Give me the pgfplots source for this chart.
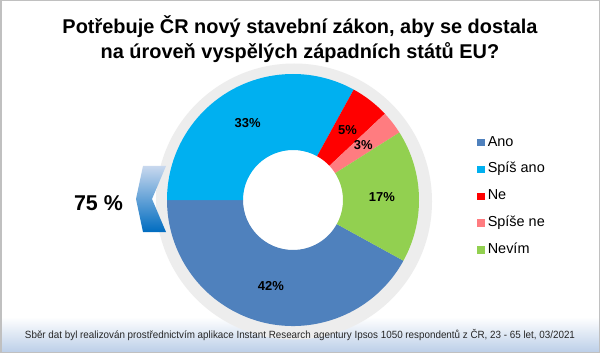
\documentclass[border=0pt]{standalone}
\usepackage{graphicx}
\usepackage{pgfplots}
\pgfplotsset{compat=1.18}
\usepackage{pgfplotstable}
\usepackage{fontspec}
\setmainfont{Liberation Sans}
\usetikzlibrary{calc}
\definecolor{anocol}{HTML}{4F81BD}
\definecolor{spisanocol}{HTML}{00B0F0}
\definecolor{necol}{HTML}{FF0000}
\definecolor{spisenecol}{HTML}{FF7C80}
\definecolor{nevimcol}{HTML}{92D050}
\definecolor{footblue}{RGB}{188,207,232}
\definecolor{framegray}{RGB}{192,192,192}
\definecolor{chevtop}{RGB}{200,216,238}
\definecolor{chevbot}{RGB}{0,108,192}

\pgfplotstableread{
label value col
Ano 42 anocol
SpisAno 33 spisanocol
Ne 5 necol
SpiseNe 3 spisenecol
Nevim 17 nevimcol
}\donutdata

\pgfdeclareradialshading{donutshadow}{\pgfpoint{0bp}{0bp}}{color(0bp)=(black!7); color(45.6bp)=(black!7); color(47bp)=(black!3); color(49bp)=(white); color(50bp)=(white)}

\begin{document}
\begin{tikzpicture}
\begin{axis}[
  width=600bp, height=353bp, scale only axis,
  xmin=0, xmax=600, ymin=0, ymax=353,
  hide axis, clip=false,
  legend style={at={(axis cs:477,217.5)}, anchor=north west, draw=none, fill=none,
    font=\fontsize{14.5}{16}\selectfont, inner sep=0pt, row sep=12.8bp,
    nodes={inner xsep=3bp, inner ysep=0pt, text height=10.5bp, text depth=3.5bp}},
  legend cell align=left,
  legend image code/.code={\fill[#1,draw=none] (0bp,-3.8bp) rectangle (7.6bp,3.8bp);},
]
% background and footer band
\fill[white] (axis cs:0,0) rectangle (axis cs:600,353);
\shade[top color=white, bottom color=footblue] (axis cs:1,1) rectangle (axis cs:599,36);
\draw[framegray, line width=1.5bp] (axis cs:0.75,0.75) rectangle (axis cs:599.25,352.25);

% title
\node[anchor=base, font=\bfseries\fontsize{20}{24}\selectfont] at (axis cs:300,319) {Potřebuje ČR nový stavební zákon, aby se dostala};
\node[anchor=base, font=\bfseries\fontsize{20}{24}\selectfont] at (axis cs:300,294) {na úroveň vyspělých západních států EU?};

% donut shadow
\shade[shading=donutshadow] (axis cs:294,151.5) circle[radius=138bp];
\fill[white] (axis cs:293,153) circle[radius=50bp];

\pgfplotsextra{
  \gdef\angA{-28.8}
  \foreach \i in {0,...,4}{
    \pgfplotstablegetelem{\i}{value}\of\donutdata \let\slval\pgfplotsretval
    \pgfplotstablegetelem{\i}{col}\of\donutdata \let\slcol\pgfplotsretval
    \pgfmathsetmacro\angB{\angA-3.6*\slval}
    \pgfmathsetmacro\angM{\angA-1.8*\slval}
    \fill[\slcol] ($(axis cs:293,153)+(\angA:126bp)$) arc[start angle=\angA, end angle=\angB, radius=126bp]
      -- ($(axis cs:293,153)+(\angB:50bp)$) arc[start angle=\angB, end angle=\angA, radius=50bp] -- cycle;
    \node[font=\bfseries\fontsize{13}{13}\selectfont] at ($(axis cs:293,153)+(\angM:89bp)$) {\slval\%};
    \xdef\angA{\angB}
  }
}

% 75 % and chevron
\node[anchor=base, font=\bfseries\fontsize{21.5}{24}\selectfont] at (axis cs:98.5,143) {75 \%};
\shade[top color=chevtop, bottom color=chevbot]
  (axis cs:143,187) -- (axis cs:166,187) -- (axis cs:152,154) -- (axis cs:166,121)
  -- (axis cs:143,121) -- (axis cs:136,154) -- cycle;

% footer text
\node[anchor=base, text=black!85] at (axis cs:300,15) {\resizebox{550bp}{\height}{\fontsize{10.5}{12}\selectfont Sběr dat byl realizován prostřednictvím aplikace Instant Research agentury Ipsos 1050 respondentů z ČR, 23 - 65 let, 03/2021}};

\addlegendimage{fill=anocol}
\addlegendentry{Ano}
\addlegendimage{fill=spisanocol}
\addlegendentry{Spíš ano}
\addlegendimage{fill=necol}
\addlegendentry{Ne}
\addlegendimage{fill=spisenecol}
\addlegendentry{Spíše ne}
\addlegendimage{fill=nevimcol}
\addlegendentry{Nevím}
\end{axis}
\end{tikzpicture}
\end{document}
